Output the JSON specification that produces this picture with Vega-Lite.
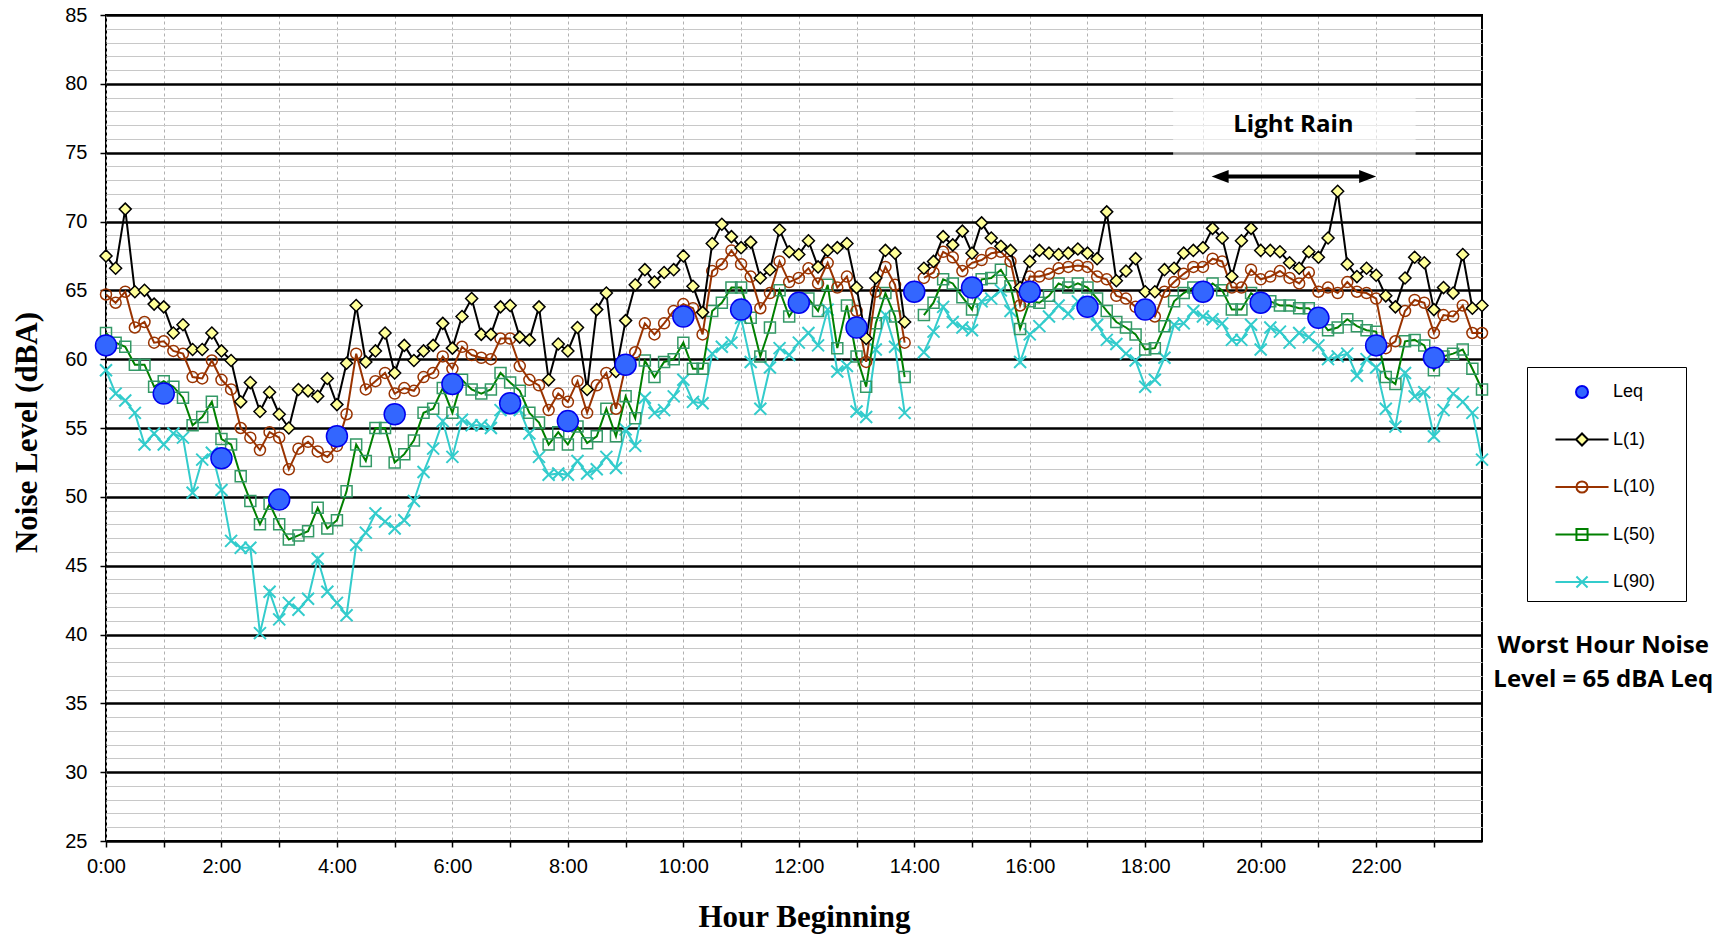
{
"$schema": "https://vega.github.io/schema/vega-lite/v6.json",
"width": 1376, "height": 826,
"autosize": {"type": "none"},
"padding": {"left": 106, "top": 15, "right": 249, "bottom": 97},
"background": "white",
"config": {"view": {"stroke": "black", "strokeWidth": 2}},
"datasets": {
"main": [
{"t":0,"L1":67.5,"L10":64.7,"L50":61.9,"L90":59.2},
{"t":10,"L1":66.6,"L10":64.1,"L50":61.2,"L90":57.5},
{"t":20,"L1":70.9,"L10":64.9,"L50":60.9,"L90":57.0},
{"t":30,"L1":64.9,"L10":62.3,"L50":59.6,"L90":56.1},
{"t":40,"L1":65.0,"L10":62.7,"L50":59.6,"L90":53.8},
{"t":50,"L1":64.0,"L10":61.2,"L50":58.0,"L90":54.6},
{"t":60,"L1":63.8,"L10":61.3,"L50":58.4,"L90":53.8},
{"t":70,"L1":61.9,"L10":60.6,"L50":58.0,"L90":54.6},
{"t":80,"L1":62.5,"L10":60.4,"L50":57.2,"L90":54.3},
{"t":90,"L1":60.7,"L10":58.7,"L50":55.2,"L90":50.3},
{"t":100,"L1":60.7,"L10":58.6,"L50":55.8,"L90":52.7},
{"t":110,"L1":61.9,"L10":59.9,"L50":56.9,"L90":53.2},
{"t":120,"L1":60.6,"L10":58.5,"L50":54.2,"L90":50.5},
{"t":130,"L1":59.9,"L10":57.8,"L50":53.8,"L90":46.8},
{"t":140,"L1":56.9,"L10":55.0,"L50":51.5,"L90":46.3},
{"t":150,"L1":58.3,"L10":54.3,"L50":49.7,"L90":46.3},
{"t":160,"L1":56.2,"L10":53.4,"L50":48.0,"L90":40.1},
{"t":170,"L1":57.6,"L10":54.7,"L50":49.5,"L90":43.1},
{"t":180,"L1":56.0,"L10":54.3,"L50":48.0,"L90":41.1},
{"t":190,"L1":55.0,"L10":52.0,"L50":46.9,"L90":42.3},
{"t":200,"L1":57.8,"L10":53.5,"L50":47.2,"L90":41.8},
{"t":210,"L1":57.7,"L10":54.0,"L50":47.5,"L90":42.6},
{"t":220,"L1":57.3,"L10":53.3,"L50":49.2,"L90":45.5},
{"t":230,"L1":58.6,"L10":52.9,"L50":47.7,"L90":43.1},
{"t":240,"L1":56.7,"L10":53.7,"L50":48.3,"L90":42.3},
{"t":250,"L1":59.7,"L10":56.0,"L50":50.4,"L90":41.4},
{"t":260,"L1":63.9,"L10":60.4,"L50":53.8,"L90":46.5},
{"t":270,"L1":59.8,"L10":57.8,"L50":52.6,"L90":47.4},
{"t":280,"L1":60.6,"L10":58.4,"L50":55.0,"L90":48.8},
{"t":290,"L1":61.9,"L10":59.0,"L50":55.0,"L90":48.2},
{"t":300,"L1":59.0,"L10":57.5,"L50":52.5,"L90":47.7},
{"t":310,"L1":61.0,"L10":57.9,"L50":53.1,"L90":48.3},
{"t":320,"L1":59.9,"L10":57.7,"L50":54.1,"L90":49.7},
{"t":330,"L1":60.6,"L10":58.7,"L50":56.1,"L90":51.8},
{"t":340,"L1":61.0,"L10":59.0,"L50":56.4,"L90":53.5},
{"t":350,"L1":62.6,"L10":60.2,"L50":57.9,"L90":55.5},
{"t":360,"L1":60.8,"L10":59.3,"L50":56.1,"L90":52.9},
{"t":370,"L1":63.1,"L10":60.9,"L50":58.5,"L90":55.6},
{"t":380,"L1":64.4,"L10":60.3,"L50":57.8,"L90":55.2},
{"t":390,"L1":61.8,"L10":60.1,"L50":57.5,"L90":55.2},
{"t":400,"L1":61.8,"L10":60.0,"L50":57.8,"L90":55.0},
{"t":410,"L1":63.8,"L10":61.5,"L50":59.0,"L90":56.3},
{"t":420,"L1":63.9,"L10":61.5,"L50":58.3,"L90":56.4},
{"t":430,"L1":61.6,"L10":59.5,"L50":57.7,"L90":56.3},
{"t":440,"L1":61.4,"L10":58.5,"L50":56.1,"L90":54.6},
{"t":450,"L1":63.8,"L10":58.1,"L50":55.4,"L90":52.9},
{"t":460,"L1":58.5,"L10":56.3,"L50":53.8,"L90":51.6},
{"t":470,"L1":61.1,"L10":57.5,"L50":54.7,"L90":51.7},
{"t":480,"L1":60.6,"L10":56.9,"L50":53.8,"L90":51.6},
{"t":490,"L1":62.3,"L10":58.4,"L50":55.1,"L90":52.6},
{"t":500,"L1":57.8,"L10":56.1,"L50":53.9,"L90":51.7},
{"t":510,"L1":63.6,"L10":58.1,"L50":54.4,"L90":52.0},
{"t":520,"L1":64.8,"L10":59.0,"L50":56.4,"L90":52.9},
{"t":530,"L1":59.1,"L10":56.4,"L50":54.4,"L90":52.1},
{"t":540,"L1":62.8,"L10":59.5,"L50":57.3,"L90":54.9},
{"t":550,"L1":65.4,"L10":60.5,"L50":55.7,"L90":53.7},
{"t":560,"L1":66.5,"L10":62.6,"L50":59.9,"L90":57.2},
{"t":570,"L1":65.6,"L10":61.8,"L50":58.7,"L90":56.1},
{"t":580,"L1":66.3,"L10":62.6,"L50":59.8,"L90":56.3},
{"t":590,"L1":66.5,"L10":63.5,"L50":60.0,"L90":57.3},
{"t":600,"L1":67.5,"L10":64.0,"L50":61.2,"L90":58.5},
{"t":610,"L1":65.3,"L10":63.7,"L50":59.3,"L90":56.9},
{"t":620,"L1":63.4,"L10":61.8,"L50":59.3,"L90":56.8},
{"t":630,"L1":68.4,"L10":66.4,"L50":63.5,"L90":60.4},
{"t":640,"L1":69.8,"L10":66.9,"L50":64.1,"L90":60.9},
{"t":650,"L1":68.9,"L10":67.9,"L50":65.2,"L90":61.2},
{"t":660,"L1":68.1,"L10":66.9,"L50":65.2,"L90":63.0},
{"t":670,"L1":68.5,"L10":66.0,"L50":63.0,"L90":59.8},
{"t":680,"L1":65.9,"L10":63.7,"L50":60.2,"L90":56.4},
{"t":690,"L1":66.5,"L10":64.8,"L50":62.3,"L90":59.4},
{"t":700,"L1":69.4,"L10":67.1,"L50":65.0,"L90":60.8},
{"t":710,"L1":67.8,"L10":65.6,"L50":63.1,"L90":60.3},
{"t":720,"L1":67.6,"L10":65.9,"L50":64.2,"L90":61.2},
{"t":730,"L1":68.6,"L10":66.6,"L50":64.4,"L90":61.9},
{"t":740,"L1":66.7,"L10":65.5,"L50":63.5,"L90":61.0},
{"t":750,"L1":67.9,"L10":67.0,"L50":65.4,"L90":63.6},
{"t":760,"L1":68.1,"L10":65.2,"L50":60.8,"L90":59.1},
{"t":770,"L1":68.4,"L10":66.0,"L50":63.9,"L90":59.5},
{"t":780,"L1":65.2,"L10":63.5,"L50":60.2,"L90":56.2},
{"t":790,"L1":61.5,"L10":59.8,"L50":58.0,"L90":55.8},
{"t":800,"L1":65.9,"L10":64.9,"L50":62.6,"L90":60.7},
{"t":810,"L1":67.9,"L10":66.7,"L50":64.8,"L90":63.2},
{"t":820,"L1":67.7,"L10":65.4,"L50":63.1,"L90":60.9},
{"t":830,"L1":62.7,"L10":61.2,"L50":58.7,"L90":56.1},
{"t":840,"L1":null,"L10":null,"L50":null,"L90":null},
{"t":850,"L1":66.6,"L10":65.9,"L50":63.2,"L90":60.5},
{"t":860,"L1":67.1,"L10":66.3,"L50":64.1,"L90":62.0},
{"t":870,"L1":68.9,"L10":67.8,"L50":65.8,"L90":63.8},
{"t":880,"L1":68.3,"L10":67.4,"L50":65.5,"L90":62.7},
{"t":890,"L1":69.3,"L10":66.4,"L50":64.5,"L90":62.3},
{"t":900,"L1":67.7,"L10":67.0,"L50":63.6,"L90":62.1},
{"t":910,"L1":69.9,"L10":67.2,"L50":65.8,"L90":64.2},
{"t":920,"L1":68.8,"L10":67.7,"L50":65.9,"L90":64.4},
{"t":930,"L1":68.2,"L10":67.8,"L50":66.5,"L90":65.0},
{"t":940,"L1":67.9,"L10":67.1,"L50":65.3,"L90":63.5},
{"t":950,"L1":65.2,"L10":63.9,"L50":62.2,"L90":59.8},
{"t":960,"L1":67.1,"L10":66.0,"L50":64.2,"L90":61.8},
{"t":970,"L1":67.9,"L10":66.0,"L50":64.1,"L90":62.4},
{"t":980,"L1":67.7,"L10":66.2,"L50":64.6,"L90":63.1},
{"t":990,"L1":67.6,"L10":66.6,"L50":65.5,"L90":63.9},
{"t":1000,"L1":67.7,"L10":66.7,"L50":65.2,"L90":63.3},
{"t":1010,"L1":68.0,"L10":66.8,"L50":65.5,"L90":64.2},
{"t":1020,"L1":67.7,"L10":66.7,"L50":65.2,"L90":63.7},
{"t":1030,"L1":67.3,"L10":66.0,"L50":64.4,"L90":62.5},
{"t":1040,"L1":70.7,"L10":65.8,"L50":63.5,"L90":61.4},
{"t":1050,"L1":65.7,"L10":64.6,"L50":62.7,"L90":61.1},
{"t":1060,"L1":66.4,"L10":64.4,"L50":62.3,"L90":60.4},
{"t":1070,"L1":67.3,"L10":63.8,"L50":61.8,"L90":59.9},
{"t":1080,"L1":64.9,"L10":63.5,"L50":60.7,"L90":58.0},
{"t":1090,"L1":64.9,"L10":63.1,"L50":60.8,"L90":58.5},
{"t":1100,"L1":66.5,"L10":64.9,"L50":62.4,"L90":60.1},
{"t":1110,"L1":66.6,"L10":65.6,"L50":64.2,"L90":62.5},
{"t":1120,"L1":67.7,"L10":66.2,"L50":64.8,"L90":62.6},
{"t":1130,"L1":67.9,"L10":66.7,"L50":65.2,"L90":63.5},
{"t":1140,"L1":68.1,"L10":66.7,"L50":64.9,"L90":63.1},
{"t":1150,"L1":69.5,"L10":67.3,"L50":65.5,"L90":62.9},
{"t":1160,"L1":68.8,"L10":67.1,"L50":65.0,"L90":62.6},
{"t":1170,"L1":66.0,"L10":65.2,"L50":63.6,"L90":61.4},
{"t":1180,"L1":68.6,"L10":65.2,"L50":63.6,"L90":61.4},
{"t":1190,"L1":69.5,"L10":66.5,"L50":64.8,"L90":62.5},
{"t":1200,"L1":67.9,"L10":65.8,"L50":64.3,"L90":60.7},
{"t":1210,"L1":67.9,"L10":66.0,"L50":64.2,"L90":62.3},
{"t":1220,"L1":67.8,"L10":66.4,"L50":63.9,"L90":62.0},
{"t":1230,"L1":67.0,"L10":65.9,"L50":63.9,"L90":61.2},
{"t":1240,"L1":66.6,"L10":65.5,"L50":63.7,"L90":61.9},
{"t":1250,"L1":67.8,"L10":66.3,"L50":63.7,"L90":61.6},
{"t":1260,"L1":67.4,"L10":64.9,"L50":63.0,"L90":61.0},
{"t":1270,"L1":68.8,"L10":65.2,"L50":62.1,"L90":60.0},
{"t":1280,"L1":72.2,"L10":64.8,"L50":62.3,"L90":60.2},
{"t":1290,"L1":66.9,"L10":65.6,"L50":62.9,"L90":60.4},
{"t":1300,"L1":66.0,"L10":64.9,"L50":62.4,"L90":58.8},
{"t":1310,"L1":66.6,"L10":64.8,"L50":62.1,"L90":60.0},
{"t":1320,"L1":66.1,"L10":64.4,"L50":62.0,"L90":59.4},
{"t":1330,"L1":64.6,"L10":60.8,"L50":58.7,"L90":56.4},
{"t":1340,"L1":63.8,"L10":61.3,"L50":58.2,"L90":55.1},
{"t":1350,"L1":65.9,"L10":63.5,"L50":61.3,"L90":59.0},
{"t":1360,"L1":67.4,"L10":64.3,"L50":61.4,"L90":57.3},
{"t":1370,"L1":67.0,"L10":64.1,"L50":61.0,"L90":57.6},
{"t":1380,"L1":63.6,"L10":61.9,"L50":59.2,"L90":54.4},
{"t":1390,"L1":65.2,"L10":63.2,"L50":60.2,"L90":56.3},
{"t":1400,"L1":64.8,"L10":63.1,"L50":60.4,"L90":57.5},
{"t":1410,"L1":67.6,"L10":63.9,"L50":60.7,"L90":56.9},
{"t":1420,"L1":63.7,"L10":61.9,"L50":59.3,"L90":56.1},
{"t":1430,"L1":63.9,"L10":61.9,"L50":57.8,"L90":52.7}
],
"leq": [
{"t":0,"Leq":61.0},{"t":60,"Leq":57.5},{"t":120,"Leq":52.8},{"t":180,"Leq":49.8},
{"t":240,"Leq":54.4},{"t":300,"Leq":56.0},{"t":360,"Leq":58.2},{"t":420,"Leq":56.8},
{"t":480,"Leq":55.5},{"t":540,"Leq":59.6},{"t":600,"Leq":63.1},{"t":660,"Leq":63.6},
{"t":720,"Leq":64.1},{"t":780,"Leq":62.3},{"t":840,"Leq":64.9},{"t":900,"Leq":65.2},
{"t":960,"Leq":64.9},{"t":1020,"Leq":63.8},{"t":1080,"Leq":63.6},{"t":1140,"Leq":64.9},
{"t":1200,"Leq":64.1},{"t":1260,"Leq":63.0},{"t":1320,"Leq":61.0},{"t":1380,"Leq":60.1}
]
},
"layer": [
{
 "data": {"name": "main"},
 "mark": {"type": "line", "color": "#33cccc", "strokeWidth": 2, "invalid": "break-paths-filter-domains",
   "point": {"shape": "M-1,-1L1,1M-1,1L1,-1", "filled": false, "stroke": "#33cccc", "strokeWidth": 2, "size": 144, "opacity": 1}},
 "encoding": {
   "x": {"field": "t", "type": "quantitative", "scale": {"domain": [0, 1430], "nice": false, "zero": false},
     "axis": {
       "values": [0,60,120,180,240,300,360,420,480,540,600,660,720,780,840,900,960,1020,1080,1140,1200,1260,1320,1380],
       "tickCount": 100,
       "labelExpr": "datum.value % 120 === 0 ? (datum.value / 60) + ':00' : ''",
       "grid": true, "gridColor": "#b0b0b0", "gridDash": [3, 3], "gridWidth": 1,
       "domain": false, "ticks": true, "tickSize": 6, "tickColor": "black", "tickWidth": 1.5,
       "labelFont": "Liberation Sans", "labelFontSize": 20, "labelColor": "black", "labelPadding": 9,
       "labelOverlap": false, "labelFlush": false,
       "title": "Hour Beginning", "titleFont": "Liberation Serif", "titleFontSize": 31, "titleFontWeight": "bold",
       "titleColor": "black", "titleX": 698, "titleY": 85, "titleBaseline": "alphabetic", "titleAlign": "center"
     }},
   "y": {"field": "L90", "type": "quantitative", "scale": {"domain": [25, 85], "nice": false, "zero": false},
     "axis": {
       "values": [25,26,27,28,29,30,31,32,33,34,35,36,37,38,39,40,41,42,43,44,45,46,47,48,49,50,51,52,53,54,55,56,57,58,59,60,61,62,63,64,65,66,67,68,69,70,71,72,73,74,75,76,77,78,79,80,81,82,83,84,85],
       "tickCount": 100,
       "labelExpr": "datum.value % 5 === 0 ? format(datum.value, 'd') : ''",
       "grid": true,
       "gridColor": {"condition": {"test": "datum.value % 5 === 0", "value": "black"}, "value": "#c8c8c8"},
       "gridWidth": {"condition": {"test": "datum.value % 5 === 0", "value": 2.5}, "value": 1},
       "domain": false, "tickSize": 6, "tickColor": "black", "tickWidth": 1.5,
       "tickOpacity": {"condition": {"test": "datum.value % 5 === 0", "value": 1}, "value": 0},
       "labelFont": "Liberation Sans", "labelFontSize": 20, "labelColor": "black", "labelPadding": 13,
       "labelOverlap": false, "labelFlush": false,
       "title": "Noise Level (dBA)", "titleFont": "Liberation Serif", "titleFontSize": 31, "titleFontWeight": "bold",
       "titleColor": "black", "titleX": -70, "titleY": 417, "titleBaseline": "alphabetic", "titleAlign": "center", "titleAngle": 270
     }}
 }
},
{
 "data": {"name": "main"},
 "mark": {"type": "line", "color": "#008000", "strokeWidth": 2, "invalid": "break-paths-filter-domains",
   "point": {"shape": "square", "filled": false, "stroke": "#339966", "strokeWidth": 1.5, "size": 121, "opacity": 1}},
 "encoding": {
   "x": {"field": "t", "type": "quantitative", "scale": {"domain": [0, 1430], "nice": false, "zero": false}},
   "y": {"field": "L50", "type": "quantitative", "scale": {"domain": [25, 85], "nice": false, "zero": false}}
 }
},
{
 "data": {"name": "main"},
 "mark": {"type": "line", "color": "#993300", "strokeWidth": 2, "invalid": "break-paths-filter-domains",
   "point": {"shape": "circle", "filled": false, "stroke": "#993300", "strokeWidth": 1.5, "size": 121, "opacity": 1}},
 "encoding": {
   "x": {"field": "t", "type": "quantitative", "scale": {"domain": [0, 1430], "nice": false, "zero": false}},
   "y": {"field": "L10", "type": "quantitative", "scale": {"domain": [25, 85], "nice": false, "zero": false}}
 }
},
{
 "data": {"name": "main"},
 "mark": {"type": "line", "color": "black", "strokeWidth": 2, "invalid": "break-paths-filter-domains",
   "point": {"shape": "diamond", "filled": true, "fill": "#ffff99", "stroke": "black", "strokeWidth": 1.5, "size": 144, "opacity": 1}},
 "encoding": {
   "x": {"field": "t", "type": "quantitative", "scale": {"domain": [0, 1430], "nice": false, "zero": false}},
   "y": {"field": "L1", "type": "quantitative", "scale": {"domain": [25, 85], "nice": false, "zero": false}}
 }
},
{
 "data": {"name": "leq"},
 "mark": {"type": "point", "shape": "circle", "filled": true, "fill": "#3366ff", "stroke": "#0000ee", "strokeWidth": 1.5, "size": 441, "opacity": 1},
 "encoding": {
   "x": {"field": "t", "type": "quantitative", "scale": {"domain": [0, 1430], "nice": false, "zero": false}},
   "y": {"field": "Leq", "type": "quantitative", "scale": {"domain": [25, 85], "nice": false, "zero": false}}
 }
},
{
 "data": {"values": []},
 "mark": {"type": "point", "filled": true, "opacity": 1, "strokeWidth": 2},
 "encoding": {
   "shape": {"field": "series", "type": "nominal",
     "scale": {"domain": ["Leq", "L(1)", "L(10)", "L(50)", "L(90)"],
       "range": [
         "M-0.4,0A0.4,0.4 0 1,0 0.4,0A0.4,0.4 0 1,0 -0.4,0ZM6.03,0",
         "M-1.77,0H-0.4M0.4,0H1.77M-0.4,0L0,-0.4L0.4,0L0,0.4Z",
         "M-1.77,0H1.77M-0.37,0A0.37,0.37 0 1,0 0.37,0A0.37,0.37 0 1,0 -0.37,0Z",
         "M-1.77,0H1.77M-0.37,-0.37H0.37V0.37H-0.37Z",
         "M-1.77,0H1.77M-0.37,-0.37L0.37,0.37M-0.37,0.37L0.37,-0.37"
       ]},
     "legend": {
       "orient": "none", "legendX": 1421, "legendY": 352, "title": null,
       "padding": 9, "strokeColor": "black", "fillColor": "white",
       "symbolSize": 900, "symbolStrokeWidth": 2, "symbolOffset": 30, "labelOffset": 15, "rowPadding": 21.5,
       "labelFont": "Liberation Sans", "labelFontSize": 18, "labelColor": "black", "labelLimit": 300
     }},
   "fill": {"field": "series", "type": "nominal",
     "scale": {"domain": ["Leq", "L(1)", "L(10)", "L(50)", "L(90)"], "range": ["#3366ff", "#ffff99", "transparent", "transparent", "transparent"]}},
   "stroke": {"field": "series", "type": "nominal",
     "scale": {"domain": ["Leq", "L(1)", "L(10)", "L(50)", "L(90)"], "range": ["#0000ee", "#000000", "#993300", "#008000", "#33cccc"]}}
 }
},
{
 "data": {"values": [{"t": 1109, "t2": 1361, "v": 74.5, "v2": 79.2}]},
 "mark": {"type": "rect", "fill": "white", "opacity": 0.6},
 "encoding": {
   "x": {"field": "t", "type": "quantitative", "scale": {"domain": [0, 1430], "nice": false, "zero": false}},
   "x2": {"field": "t2"},
   "y": {"field": "v", "type": "quantitative", "scale": {"domain": [25, 85], "nice": false, "zero": false}},
   "y2": {"field": "v2"}
 }
},
{
 "data": {"values": [{"t": 1158, "t2": 1311, "v": 73.27}]},
 "mark": {"type": "rule", "color": "black", "strokeWidth": 4},
 "encoding": {
   "x": {"field": "t", "type": "quantitative", "scale": {"domain": [0, 1430], "nice": false, "zero": false}},
   "x2": {"field": "t2"},
   "y": {"field": "v", "type": "quantitative", "scale": {"domain": [25, 85], "nice": false, "zero": false}}
 }
},
{
 "data": {"values": [{"t": 1149, "v": 73.27}]},
 "mark": {"type": "point", "shape": "M0,0L17,-6.5L17,6.5Z", "size": 4, "filled": true, "fill": "black", "strokeWidth": 0, "opacity": 1},
 "encoding": {
   "x": {"field": "t", "type": "quantitative", "scale": {"domain": [0, 1430], "nice": false, "zero": false}},
   "y": {"field": "v", "type": "quantitative", "scale": {"domain": [25, 85], "nice": false, "zero": false}}
 }
},
{
 "data": {"values": [{"t": 1320, "v": 73.27}]},
 "mark": {"type": "point", "shape": "M0,0L-17,-6.5L-17,6.5Z", "size": 4, "filled": true, "fill": "black", "strokeWidth": 0, "opacity": 1},
 "encoding": {
   "x": {"field": "t", "type": "quantitative", "scale": {"domain": [0, 1430], "nice": false, "zero": false}},
   "y": {"field": "v", "type": "quantitative", "scale": {"domain": [25, 85], "nice": false, "zero": false}}
 }
},
{
 "data": {"values": [{"t": 1234, "v": 77.0, "label": "Light Rain"}]},
 "mark": {"type": "text", "font": "Open Sans", "fontWeight": "bold", "fontSize": 24, "align": "center", "baseline": "middle", "color": "black"},
 "encoding": {
   "x": {"field": "t", "type": "quantitative", "scale": {"domain": [0, 1430], "nice": false, "zero": false}},
   "y": {"field": "v", "type": "quantitative", "scale": {"domain": [25, 85], "nice": false, "zero": false}},
   "text": {"field": "label"}
 }
},
{
 "data": {"values": [{"t": 1556, "v": 39.17, "label": "Worst Hour Noise\nLevel = 65 dBA Leq"}]},
 "mark": {"type": "text", "font": "Open Sans", "fontWeight": "bold", "fontSize": 24, "align": "center", "baseline": "middle", "lineBreak": "\n", "lineHeight": 34, "color": "black", "clip": false},
 "encoding": {
   "x": {"field": "t", "type": "quantitative", "scale": {"domain": [0, 1430], "nice": false, "zero": false}},
   "y": {"field": "v", "type": "quantitative", "scale": {"domain": [25, 85], "nice": false, "zero": false}},
   "text": {"field": "label"}
 }
}
]
}
